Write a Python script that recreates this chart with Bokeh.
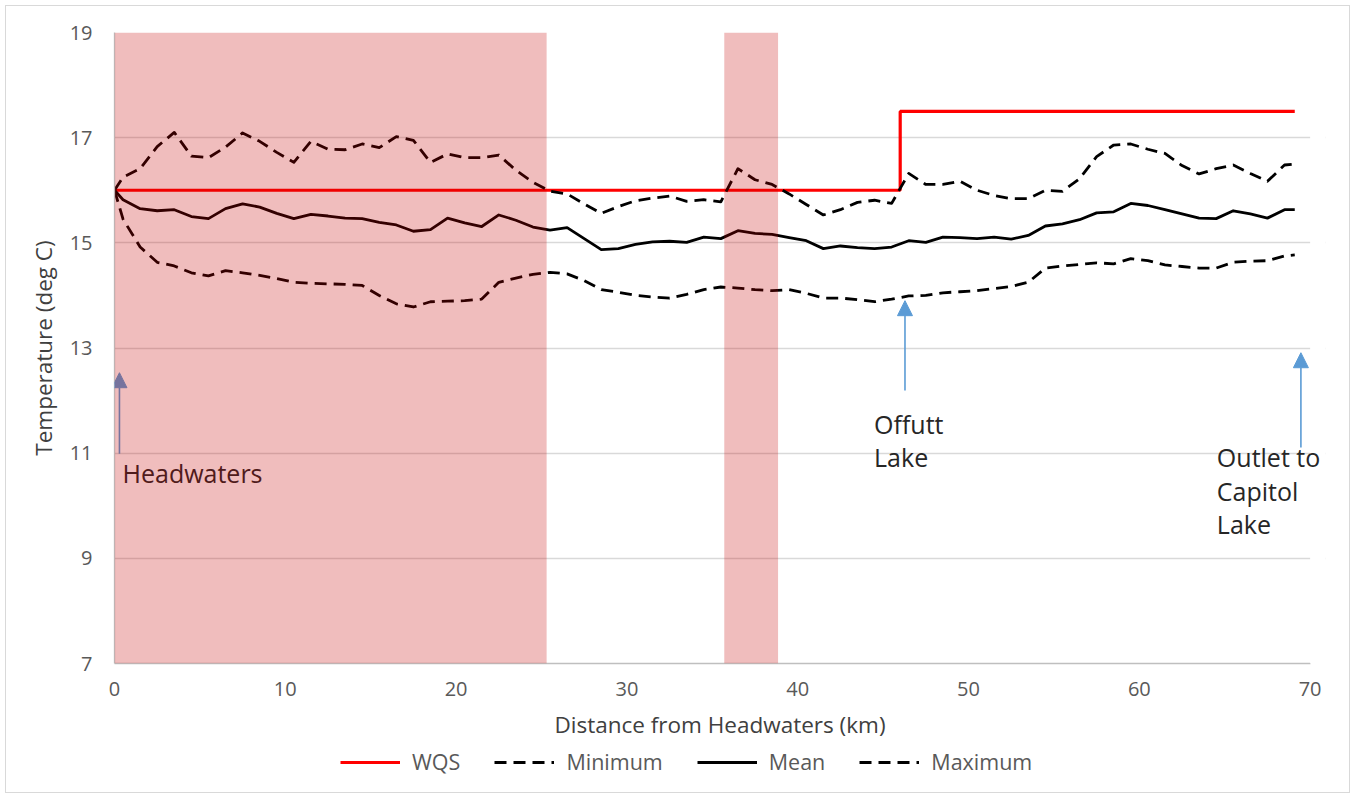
from bokeh.plotting import figure
from bokeh.layouts import column
from bokeh.models import (Range1d, FixedTicker, BoxAnnotation, Arrow, NormalHead,
                          Label, Legend, LegendItem)
from bokeh.embed import file_html
from bokeh.resources import INLINE

# Stream temperature profile along the channel (km from headwaters)
distance_km = [0, 0.5, 1.5, 2.5, 3.5, 4.5, 5.5, 6.5, 7.5, 8.5, 9.5,
               10.5, 11.5, 12.5, 13.5, 14.5, 15.5, 16.5, 17.5, 18.5, 19.5,
               20.5, 21.5, 22.5, 23.5, 24.5, 25.5, 26.5, 27.5, 28.5, 29.5,
               30.5, 31.5, 32.5, 33.5, 34.5, 35.5, 36.5, 37.5, 38.5, 39.5,
               40.5, 41.5, 42.5, 43.5, 44.5, 45.5, 46.5, 47.5, 48.5, 49.5,
               50.5, 51.5, 52.5, 53.5, 54.5, 55.5, 56.5, 57.5, 58.5, 59.5,
               60.5, 61.5, 62.5, 63.5, 64.5, 65.5, 66.5, 67.5, 68.5, 69.1]

temp_mean = [16.00, 15.82, 15.65, 15.61, 15.63, 15.50, 15.46, 15.65, 15.74, 15.68, 15.56,
             15.46, 15.54, 15.51, 15.47, 15.46, 15.39, 15.34, 15.22, 15.25, 15.47,
             15.38, 15.31, 15.53, 15.43, 15.30, 15.24, 15.29, 15.08, 14.87, 14.89,
             14.97, 15.02, 15.03, 15.01, 15.11, 15.08, 15.23, 15.18, 15.16, 15.10,
             15.04, 14.89, 14.94, 14.91, 14.89, 14.92, 15.04, 15.01, 15.11, 15.10,
             15.08, 15.11, 15.07, 15.14, 15.32, 15.36, 15.44, 15.57, 15.59, 15.75,
             15.71, 15.63, 15.55, 15.47, 15.46, 15.61, 15.55, 15.47, 15.63, 15.63]

temp_max = [16.00, 16.25, 16.41, 16.83, 17.10, 16.65, 16.62, 16.82, 17.09, 16.93, 16.72,
            16.53, 16.93, 16.78, 16.77, 16.88, 16.81, 17.02, 16.95, 16.53, 16.69,
            16.62, 16.62, 16.67, 16.38, 16.15, 15.98, 15.93, 15.74, 15.56, 15.69,
            15.80, 15.85, 15.89, 15.79, 15.82, 15.78, 16.41, 16.20, 16.11, 15.93,
            15.73, 15.53, 15.63, 15.77, 15.81, 15.75, 16.32, 16.11, 16.11, 16.17,
            16.00, 15.90, 15.84, 15.84, 16.00, 15.98, 16.22, 16.64, 16.86, 16.88,
            16.78, 16.70, 16.47, 16.31, 16.41, 16.48, 16.32, 16.17, 16.48, 16.50]

temp_min = [16.00, 15.45, 14.92, 14.63, 14.56, 14.43, 14.37, 14.47, 14.43, 14.38, 14.32,
            14.25, 14.23, 14.22, 14.21, 14.19, 14.00, 13.84, 13.78, 13.88, 13.89,
            13.90, 13.93, 14.25, 14.33, 14.40, 14.44, 14.41, 14.28, 14.11, 14.06,
            14.00, 13.97, 13.95, 14.02, 14.11, 14.16, 14.14, 14.11, 14.09, 14.11,
            14.04, 13.95, 13.95, 13.92, 13.88, 13.93, 13.99, 14.00, 14.05, 14.07,
            14.09, 14.13, 14.17, 14.25, 14.52, 14.56, 14.59, 14.62, 14.60, 14.70,
            14.66, 14.58, 14.55, 14.52, 14.52, 14.63, 14.65, 14.66, 14.75, 14.77]

# Water quality standard (step change at Offutt Lake)
wqs_km = [0, 46, 46, 69.1]
wqs_temp = [16.0, 16.0, 17.5, 17.5]

# Shaded reaches
reach_start_km = [0, 35.7]
reach_end_km = [25.3, 38.85]

# Location markers
marker_km = [0.29, 46.28, 69.46]
marker_tail = [10.99, 12.19, 11.11]
marker_tip = [12.53, 13.90, 12.91]
marker_text = [["Headwaters"], ["Offutt", "Lake"], ["Outlet to", "Capitol", "Lake"]]
marker_text_km = [0.47, 44.47, 64.54]
marker_text_top = [10.63, 11.56, 10.92]

x_ticks = [0, 10, 20, 30, 40, 50, 60, 70]
y_ticks = [7, 9, 11, 13, 15, 17, 19]
x_end = 70
x_view_end = 70.9   # a little room past the axis end for the outlet label

FONT = "Open Sans"
TXT = "#595959"
FULL_WIDTH = 1343

WQS_STYLE = dict(line_color="#ff0000", line_width=3.2)
MIN_STYLE = dict(line_color="black", line_width=2.8, line_dash="12 7", line_join="round")
MEAN_STYLE = dict(line_color="black", line_width=2.8, line_join="round")
MAX_STYLE = dict(line_color="black", line_width=2.8, line_dash="12 7", line_join="round")

p = figure(frame_width=1211, frame_height=631,
           x_range=Range1d(0, x_view_end), y_range=Range1d(7, 19),
           output_backend="svg", toolbar_location=None,
           min_border_left=108, min_border_right=FULL_WIDTH - 108 - 1211,
           min_border_top=26, min_border_bottom=60,
           background_fill_color="white", border_fill_color="white")
p.outline_line_color = None

p.xgrid.grid_line_color = None
p.ygrid.grid_line_color = "#d9d9d9"
p.ygrid.grid_line_width = 1.3
p.ygrid.ticker = FixedTicker(ticks=y_ticks)

p.xaxis.ticker = FixedTicker(ticks=x_ticks)
p.xaxis.bounds = (0, x_end)
p.yaxis.ticker = FixedTicker(ticks=y_ticks)
for ax in (p.xaxis[0], p.yaxis[0]):
    ax.axis_line_color = "#bfbfbf"
    ax.axis_line_width = 1.3
    ax.major_tick_line_color = None
    ax.minor_tick_line_color = None
    ax.major_tick_out = 0
    ax.major_tick_in = 0
    ax.major_label_text_font = FONT
    ax.major_label_text_font_size = "20px"
    ax.major_label_text_color = TXT
    ax.axis_label_text_font = FONT
    ax.axis_label_text_font_size = "22.5px"
    ax.axis_label_text_font_style = "normal"
    ax.axis_label_text_color = "#404040"

p.xaxis.axis_label = "Distance from Headwaters (km)"
p.yaxis.axis_label = "Temperature (deg C)"
p.xaxis.major_label_standoff = 18
p.xaxis.axis_label_standoff = 10
p.yaxis.major_label_standoff = 22
p.yaxis.axis_label_standoff = 8

# Hide gridline ends past the last tick
p.add_layout(BoxAnnotation(left=x_end, right=x_view_end, fill_color="white",
                           fill_alpha=1, line_alpha=0))

p.line(wqs_km, wqs_temp, **WQS_STYLE)
p.line(distance_km, temp_min, **MIN_STYLE)
p.line(distance_km, temp_mean, **MEAN_STYLE)
p.line(distance_km, temp_max, **MAX_STYLE)

# Marker arrows and labels
for km, tail, tip in zip(marker_km, marker_tail, marker_tip):
    p.add_layout(Arrow(x_start=km, y_start=tail, x_end=km, y_end=tip,
                       line_color="#5b9bd5", line_width=1.6,
                       end=NormalHead(size=15, fill_color="#5b9bd5",
                                      line_color="#5b9bd5", line_width=1)))

for lines, km, top in zip(marker_text, marker_text_km, marker_text_top):
    for i, t in enumerate(lines):
        p.add_layout(Label(x=km, y=top - i * 0.63, text=t,
                           text_font=FONT, text_font_size="25px",
                           text_color="#262626", text_align="left",
                           text_baseline="middle"))

# Shaded reaches drawn over the lines as a translucent tint
for a, b in zip(reach_start_km, reach_end_km):
    p.add_layout(BoxAnnotation(left=a, right=b, fill_color=(198, 0, 0),
                               fill_alpha=0.26, line_alpha=0))

# Legend strip under the chart; its series sit outside the strip's view range
leg = figure(width=FULL_WIDTH, height=50, x_range=Range1d(0, 1), y_range=Range1d(0, 1),
             x_axis_type=None, y_axis_type=None, min_border=0,
             output_backend="svg", toolbar_location=None,
             background_fill_color="white", border_fill_color="white")
leg.outline_line_color = None
l_wqs = leg.line(wqs_km, wqs_temp, **WQS_STYLE)
l_min = leg.line(distance_km, temp_min, **MIN_STYLE)
l_mean = leg.line(distance_km, temp_mean, **MEAN_STYLE)
l_max = leg.line(distance_km, temp_max, **MAX_STYLE)

legend = Legend(items=[LegendItem(label="WQS", renderers=[l_wqs]),
                       LegendItem(label="Minimum", renderers=[l_min]),
                       LegendItem(label="Mean", renderers=[l_mean]),
                       LegendItem(label="Maximum", renderers=[l_max])],
                orientation="horizontal", location=(226, 16),
                glyph_width=60, glyph_height=20, label_standoff=12,
                spacing=34, padding=2, margin=0,
                label_text_font=FONT, label_text_font_size="21.5px",
                label_text_color=TXT, border_line_color=None,
                background_fill_alpha=0)
leg.add_layout(legend, "center")

layout = column(p, leg, spacing=0)
layout.styles = {"margin": "5px 0 0 5px", "border": "1px solid #d9d9d9"}

open("out.html", "w").write(file_html(layout, INLINE))
